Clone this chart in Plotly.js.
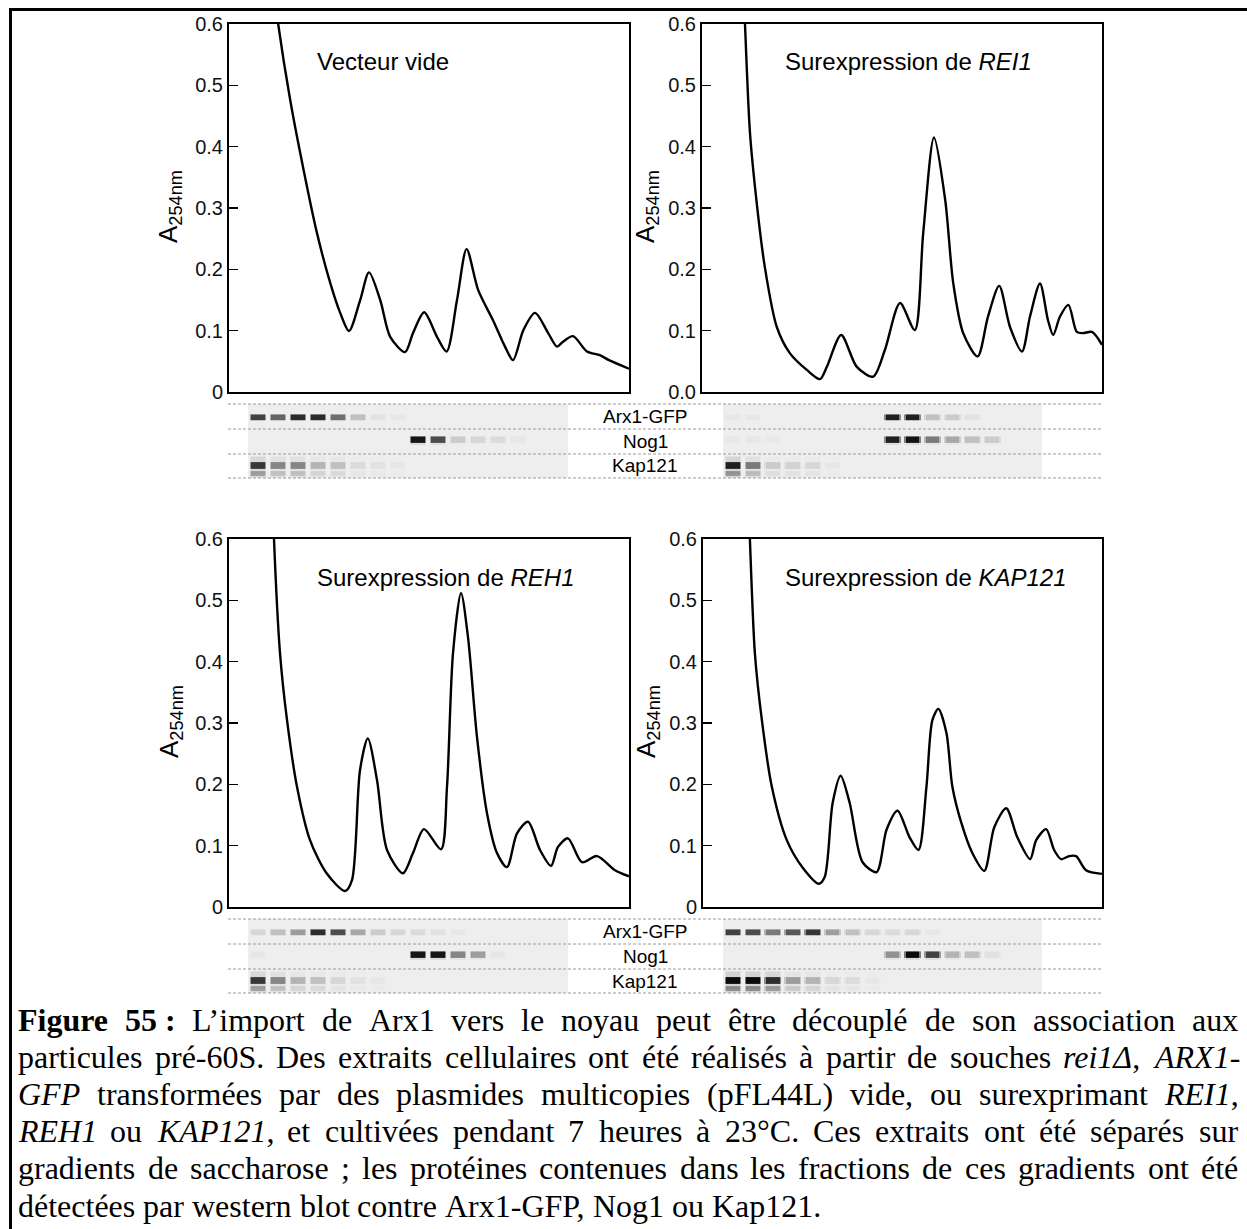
<!DOCTYPE html>
<html><head><meta charset="utf-8">
<script src="https://cdn.plot.ly/plotly-3.0.1.min.js"></script>
<style>html,body{margin:0;padding:0;background:#fff}</style>
</head><body><div id="chart" style="width:1247px;height:1229px"></div>
<script>
// ---------- DATA (x = % of gradient, y = A254nm) ----------
const xVide = [10.8,12.3,15.3,18.5,22,25.3,27.8,30,32.8,35,37.8,40.3,44,46,48.8,52,54.4,57,59.4,62.3,66,69,71,73.6,76.5,79.8,82,83.5,86,89.5,92.7,95,100];
const yVide = [0.68,0.6,0.476,0.367,0.259,0.178,0.129,0.0995,0.15,0.195,0.15,0.09,0.065,0.096,0.13,0.09,0.066,0.15,0.233,0.166,0.117,0.074,0.052,0.101,0.129,0.096,0.074,0.082,0.091,0.066,0.06,0.052,0.038];

const xREI1 = [10.2,10.75,12,13.6,15.7,18.7,22,26.2,29.5,31.2,34.8,38.7,42.8,45.7,49.5,53.2,55.3,58,60.8,62.8,65.3,68.9,71.5,74.3,77,80,82,84.5,86.5,87.8,89.5,91.6,93.7,95.2,97.5,100];
const yREI1 = [0.7,0.6,0.422,0.313,0.204,0.106,0.063,0.036,0.021,0.041,0.093,0.041,0.025,0.068,0.145,0.101,0.259,0.415,0.313,0.178,0.096,0.058,0.123,0.173,0.106,0.066,0.123,0.177,0.117,0.093,0.123,0.142,0.098,0.096,0.098,0.077];

const xREH1 = [10.8,11.25,12.75,14.5,17,20.25,24.4,29,30.75,32.75,34.7,37,39.5,43.5,46,48.75,53,54.5,56,58,59.75,62,64.5,67,69.5,72,74.75,77.75,80.5,82.25,84.75,88.25,92,96.5,100];
const yREH1 = [0.7,0.6,0.414,0.305,0.196,0.109,0.055,0.026,0.044,0.223,0.275,0.207,0.093,0.055,0.088,0.127,0.094,0.196,0.414,0.512,0.44,0.277,0.153,0.088,0.065,0.12,0.139,0.093,0.067,0.098,0.112,0.073,0.083,0.06,0.05];

const xKAP121 = [11.2,11.75,13,14.75,17.25,21,25,29,30.5,32.5,34.5,36.75,40,43.5,46,48.75,51.75,54,56,57.5,59,61,62.5,64.75,67.5,70.5,73,76,78.75,82,83.5,86,88,89.75,91.75,93.5,96,100];
const yKAP121 = [0.7,0.6,0.414,0.305,0.196,0.109,0.064,0.038,0.049,0.17,0.214,0.17,0.073,0.057,0.126,0.157,0.114,0.093,0.196,0.305,0.323,0.284,0.196,0.137,0.088,0.059,0.13,0.161,0.114,0.078,0.109,0.127,0.093,0.078,0.083,0.083,0.06,0.054];

const yTickVals = [0,0.1,0.2,0.3,0.4,0.5,0.6];
const panelTitles = ["Vecteur vide","Surexpression de <i>REI1</i>","Surexpression de <i>REH1</i>","Surexpression de <i>KAP121</i>"];
const yTitle = "A<sub>254nm</sub>";
const proteins = ["Arx1-GFP","Nog1","Kap121"];

// western blot band intensities per fraction (16 lanes, 0 = none, 1 = saturated)
const videArx1   = [0.75,0.6,0.85,0.85,0.55,0.2,0.05,0.03,0,0,0,0,0,0,0,0];
const videNog1   = [0,0,0,0,0,0,0,0,0.95,0.7,0.15,0.1,0.08,0.03,0,0];
const videKap121 = [0.8,0.45,0.45,0.25,0.2,0.08,0.05,0.03,0,0,0,0,0,0,0,0];
const rei1Arx1   = [0.03,0.03,0,0,0,0,0,0,0.9,0.9,0.2,0.15,0.05,0,0,0];
const rei1Nog1   = [0.03,0.03,0.02,0,0,0,0,0,0.9,0.95,0.5,0.3,0.2,0.15,0,0];
const rei1Kap121 = [0.9,0.5,0.15,0.12,0.1,0.03,0,0,0,0,0,0,0,0,0,0];
const reh1Arx1   = [0.1,0.2,0.35,0.85,0.7,0.3,0.15,0.1,0.08,0.05,0.03,0,0,0,0,0];
const reh1Nog1   = [0.03,0,0,0,0,0,0,0,0.95,0.95,0.45,0.35,0.03,0,0,0];
const reh1Kap121 = [0.8,0.45,0.25,0.2,0.1,0.05,0.03,0,0,0,0,0,0,0,0,0];
const kapArx1    = [0.75,0.7,0.5,0.65,0.8,0.35,0.2,0.1,0.08,0.1,0.03,0,0,0,0,0];
const kapNog1    = [0,0,0,0,0,0,0,0,0.4,1.0,0.75,0.25,0.2,0.05,0,0];
const kapKap121  = [1.0,1.0,0.85,0.35,0.25,0.1,0.08,0.03,0,0,0,0,0,0,0,0];

const captionLines = [
 "<b>Figure 55\u00a0:</b> L’import de Arx1 vers le noyau peut être découplé de son association aux",
 "particules pré-60S. Des extraits cellulaires ont été réalisés à partir de souches <i>rei1Δ</i>, <i>ARX1-</i>",
 "<i>GFP</i> transformées par des plasmides multicopies (pFL44L) vide, ou surexprimant <i>REI1</i>,",
 "<i>REH1</i> ou <i>KAP121</i>, et cultivées pendant 7 heures à 23°C. Ces extraits ont été séparés sur",
 "gradients de saccharose ; les protéines contenues dans les fractions de ces gradients ont été",
 "détectées par western blot contre Arx1-GFP, Nog1 ou Kap121."
];

// ---------- LAYOUT HELPERS ----------
const W = 1247, H = 1229;
const dx = (a,b) => [a/W, b/W];
const dy = (top,bottom) => [1-bottom/H, 1-top/H];
const SANS = "Liberation Sans, Arial, sans-serif";
const SERIF = "Liberation Serif, Times New Roman, serif";

const curves = [[xVide,yVide],[xREI1,yREI1],[xREH1,yREH1],[xKAP121,yKAP121]];
const panelBoxes = [
  {x:[229,629], y:[24,392]},
  {x:[702,1102], y:[24,392]},
  {x:[229,629], y:[539,907]},
  {x:[703,1102], y:[539,907]}
];
const blots = [[videArx1,videNog1,videKap121],[rei1Arx1,rei1Nog1,rei1Kap121],[reh1Arx1,reh1Nog1,reh1Kap121],[kapArx1,kapNog1,kapKap121]];
const blotBoxes = [
  {x:[248,568], y:[404,478]},
  {x:[723,1042], y:[404,478]},
  {x:[248,568], y:[919,993]},
  {x:[723,1042], y:[919,993]}
];

const traces = [];
const layout = {
  width:W, height:H, margin:{l:0,r:0,t:0,b:0},
  paper_bgcolor:'#fff', plot_bgcolor:'#fff', showlegend:false,
  shapes:[], annotations:[]
};

curves.forEach((c,k)=>{
  const n = k+1, sx = n===1?'':n;
  traces.push({type:'scatter', mode:'lines', x:c[0], y:c[1], xaxis:'x'+sx, yaxis:'y'+sx,
    line:{color:'#000', width:2.4, shape:'spline', smoothing:0.8}, hoverinfo:'skip'});
  layout['xaxis'+sx] = {domain:dx(...panelBoxes[k].x), range:[0,100], anchor:'y'+sx,
    showticklabels:false, ticks:'', showgrid:false, zeroline:false,
    showline:true, mirror:true, linewidth:2, linecolor:'#000'};
  layout['yaxis'+sx] = {domain:dy(...panelBoxes[k].y), range:[0,0.6], anchor:'x'+sx,
    tickvals:yTickVals, tickformat: k===1 ? '.1f' : '', ticks:'inside', ticklen:9, tickwidth:1.5, tickcolor:'#000',
    tickfont:{family:SANS, size:20, color:'#111'}, showgrid:false, zeroline:false,
    showline:true, mirror:true, linewidth:2, linecolor:'#000'};
  const titleX = [315,783,315,783][k], titleY = [62,62,577,577][k];
  layout.annotations.push({xref:'paper', yref:'paper', x:titleX/W, y:1-titleY/H, xanchor:'left', yanchor:'middle',
    text:panelTitles[k], showarrow:false, font:{family:SANS, size:24, color:'#000'}});
  const ytX = [170,647,170,647][k], ytY = [207,207,722,722][k];
  layout.annotations.push({xref:'paper', yref:'paper', x:ytX/W, y:1-ytY/H, xanchor:'center', yanchor:'middle',
    text:yTitle, textangle:-90, showarrow:false, font:{family:SANS, size:26, color:'#000'}});
});

// blots as heatmaps on a fine grid: each lane = gap|edge|core|edge|gap, each protein row = 20 sub-rows
const xEdges = [];
const xFactor = [0, 0.5, 1, 0.5, 0];
for (let i=0;i<16;i++){ xEdges.push(i-0.5, i-0.42, i-0.34, i+0.34, i+0.42); }
xEdges.push(15.5);
const SUB = 20;
const yEdges = [];
for (let r=0;r<=3*SUB;r++) yEdges.push(r/SUB);
// band geometry inside a protein row (0 = bottom, 1 = top): [center, halfHeight, factor]
const bandGeom = [
  [[0.46,0.09,1]],                       // Arx1-GFP
  [[0.54,0.11,1]],                       // Nog1
  [[0.5,0.12,1],[0.2,0.07,0.45],[0.45,0.4,0.12]]   // Kap121 (main, lower band, smear)
];
function profile(d,h){ const a=Math.abs(d); if(a<=h) return 1; if(a<=h+0.06) return 1-(a-h)/0.06; return 0; }
blots.forEach((b,k)=>{
  const n = k+5;
  const z = [];
  for (let r=0;r<3*SUB;r++){
    const yc = (r+0.5)/SUB;
    const pIdx = 2 - Math.floor(yc);          // 0 = Arx1 (top), 2 = Kap121 (bottom)
    const local = yc - Math.floor(yc);
    const row = [];
    for (let i=0;i<16;i++){
      const v = b[pIdx][i];
      let m = 0;
      bandGeom[pIdx].forEach(g=>{ m = Math.max(m, g[2]*profile(local-g[0], g[1])); });
      xFactor.forEach(f=>row.push(v*m*f));
    }
    z.push(row);
  }
  traces.push({type:'heatmap', x:xEdges, y:yEdges, z:z, xaxis:'x'+n, yaxis:'y'+n, zmin:0, zmax:1,
    colorscale:[[0,'#eeeeee'],[0.5,'#7a7a7a'],[1,'#0a0a0a']], showscale:false, hoverinfo:'skip', zsmooth:false});
  layout['xaxis'+n] = {domain:dx(...blotBoxes[k].x), range:[-0.5,15.5], visible:false, anchor:'y'+n};
  layout['yaxis'+n] = {domain:dy(...blotBoxes[k].y), range:[0,3], visible:false, anchor:'x'+n};
});

// dashed separators + protein labels
[[404,429,454,478],[919,944,969,993]].forEach(ys=>{
  ys.forEach(yy=>{
    layout.shapes.push({type:'line', xref:'paper', yref:'paper', x0:228/W, x1:1103/W, y0:1-yy/H, y1:1-yy/H,
      line:{color:'#9a9a9a', width:1, dash:'3px,2px'}, layer:'above'});
  });
  proteins.forEach((p,j)=>{
    const cy = (ys[j]+ys[j+1])/2;
    layout.annotations.push({xref:'paper', yref:'paper', x:645/W, y:1-cy/H, xanchor:'center', yanchor:'middle',
      text:p, showarrow:false, font:{family:SANS, size:19, color:'#000'}});
  });
});

// outer frame
layout.shapes.push({type:'rect', xref:'paper', yref:'paper', x0:10.5/W, x1:1300/W, y0:1-9.5/H, y1:-0.05,
  line:{color:'#000', width:3}, fillcolor:'rgba(0,0,0,0)'});

// caption (justified, word by word)
const cvs = document.createElement('canvas'); const ctx = cvs.getContext('2d');
function tokenize(line){
  const toks=[]; let cur=[]; let b=false,it=false; let k=0;
  while(k<line.length){
    if(line.startsWith('<b>',k)){b=true;k+=3;continue;}
    if(line.startsWith('</b>',k)){b=false;k+=4;continue;}
    if(line.startsWith('<i>',k)){it=true;k+=3;continue;}
    if(line.startsWith('</i>',k)){it=false;k+=4;continue;}
    const ch=line[k];
    if(ch===' '){ if(cur.length) toks.push(cur); cur=[]; k++; continue; }
    const last=cur[cur.length-1];
    if(last && last.b===b && last.i===it) last.t+=ch; else cur.push({t:ch,b:b,i:it});
    k++;
  }
  if(cur.length) toks.push(cur);
  return toks;
}
function measure(tok, fs){
  let w=0;
  tok.forEach(s=>{ ctx.font=(s.i?'italic ':'')+(s.b?'bold ':'')+fs+'px "Liberation Serif"'; w+=ctx.measureText(s.t).width; });
  return w;
}
const capLeft = 18, capRight = 1238, capY0 = 1020, capStep = 37.1;
let fs = 32;
const tokLines = captionLines.map(tokenize);
let maxNat = 0;
tokLines.slice(0,5).forEach(tl=>{
  ctx.font = fs+'px "Liberation Serif"';
  const sp = ctx.measureText(' ').width;
  const w = tl.reduce((a,t)=>a+measure(t,fs),0) + sp*(tl.length-1);
  maxNat = Math.max(maxNat,w);
});
if (maxNat > capRight-capLeft) fs = fs*(capRight-capLeft)/maxNat;
tokLines.forEach((tl,li)=>{
  const widths = tl.map(t=>measure(t,fs));
  const total = widths.reduce((a,b)=>a+b,0);
  ctx.font = fs+'px "Liberation Serif"';
  const gap = li<5 ? (capRight-capLeft-total)/(tl.length-1) : ctx.measureText(' ').width;
  let x = capLeft;
  tl.forEach((t,j)=>{
    const html = t.map(s=>(s.b?'<b>':'')+(s.i?'<i>':'')+s.t+(s.i?'</i>':'')+(s.b?'</b>':'')).join('');
    layout.annotations.push({xref:'paper', yref:'paper', x:x/W, y:1-(capY0+li*capStep)/H, xanchor:'left', yanchor:'middle',
      text:html, showarrow:false, borderpad:0, borderwidth:0, font:{family:SERIF, size:fs, color:'#000'}});
    x += widths[j] + gap;
  });
});

Plotly.newPlot('chart', traces, layout, {staticPlot:true, displayModeBar:false});
</script>
</body></html>
